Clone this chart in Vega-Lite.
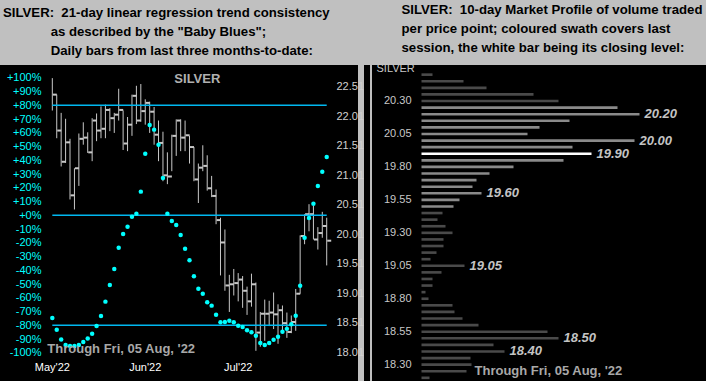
{
  "$schema": "https://vega.github.io/schema/vega-lite/v6.json",
  "background": "#c0c0c0",
  "padding": {"left": 0, "top": 3, "right": 0, "bottom": 0},
  "spacing": 0,
  "config": {
    "view": {"stroke": null, "fill": "#000000"},
    "axis": {"labelFont": "Liberation Sans", "titleFont": "Liberation Sans", "grid": false, "domain": false, "ticks": false},
    "text": {"font": "Liberation Sans"},
    "title": {"font": "Liberation Sans"}
  },
  "datasets": {
    "silver": [
      {"n": 0, "date": "2022-05-06", "h": 22.66, "l": 22.11, "c": 22.38, "bb": -74.7},
      {"n": 1, "date": "2022-05-09", "h": 22.38, "l": 21.64, "c": 21.77, "bb": -83.2},
      {"n": 2, "date": "2022-05-10", "h": 22.07, "l": 21.16, "c": 21.24, "bb": -90.3},
      {"n": 3, "date": "2022-05-11", "h": 21.97, "l": 21.22, "c": 21.57, "bb": -94.3},
      {"n": 4, "date": "2022-05-12", "h": 21.63, "l": 20.60, "c": 20.67, "bb": -95.1},
      {"n": 5, "date": "2022-05-13", "h": 21.13, "l": 20.43, "c": 21.13, "bb": -95.1},
      {"n": 6, "date": "2022-05-16", "h": 21.72, "l": 20.83, "c": 21.63, "bb": -94.3},
      {"n": 7, "date": "2022-05-17", "h": 21.91, "l": 21.53, "c": 21.65, "bb": -92.1},
      {"n": 8, "date": "2022-05-18", "h": 21.74, "l": 21.39, "c": 21.40, "bb": -89.6},
      {"n": 9, "date": "2022-05-19", "h": 21.98, "l": 21.25, "c": 21.94, "bb": -86.1},
      {"n": 10, "date": "2022-05-20", "h": 22.06, "l": 21.59, "c": 21.77, "bb": -80.5},
      {"n": 11, "date": "2022-05-23", "h": 22.18, "l": 21.64, "c": 21.80, "bb": -73.2},
      {"n": 12, "date": "2022-05-24", "h": 22.21, "l": 21.64, "c": 22.12, "bb": -62.8},
      {"n": 13, "date": "2022-05-25", "h": 22.15, "l": 21.76, "c": 21.98, "bb": -50.7},
      {"n": 14, "date": "2022-05-26", "h": 22.07, "l": 21.73, "c": 22.04, "bb": -39.1},
      {"n": 15, "date": "2022-05-27", "h": 22.48, "l": 21.94, "c": 22.12, "bb": -23.6},
      {"n": 16, "date": "2022-05-31", "h": 22.11, "l": 21.44, "c": 21.55, "bb": -13.6},
      {"n": 17, "date": "2022-06-01", "h": 22.00, "l": 21.42, "c": 21.87, "bb": -8.3},
      {"n": 18, "date": "2022-06-02", "h": 22.38, "l": 21.68, "c": 22.36, "bb": -1.0},
      {"n": 19, "date": "2022-06-03", "h": 22.53, "l": 21.88, "c": 21.94, "bb": 1.2},
      {"n": 20, "date": "2022-06-06", "h": 22.56, "l": 21.92, "c": 22.10, "bb": 17.2},
      {"n": 21, "date": "2022-06-07", "h": 22.30, "l": 21.87, "c": 22.24, "bb": 44.8},
      {"n": 22, "date": "2022-06-08", "h": 22.26, "l": 21.73, "c": 22.09, "bb": 65.7},
      {"n": 23, "date": "2022-06-09", "h": 22.17, "l": 21.53, "c": 21.70, "bb": 62.3},
      {"n": 24, "date": "2022-06-10", "h": 21.94, "l": 21.25, "c": 21.56, "bb": 51.3},
      {"n": 25, "date": "2022-06-13", "h": 21.75, "l": 20.91, "c": 21.01, "bb": 27.1},
      {"n": 26, "date": "2022-06-14", "h": 21.40, "l": 20.86, "c": 20.99, "bb": 1.2},
      {"n": 27, "date": "2022-06-15", "h": 21.70, "l": 21.08, "c": 21.68, "bb": -4.1},
      {"n": 28, "date": "2022-06-16", "h": 21.96, "l": 21.34, "c": 21.94, "bb": -7.1},
      {"n": 29, "date": "2022-06-17", "h": 21.96, "l": 21.42, "c": 21.65, "bb": -14.3},
      {"n": 30, "date": "2022-06-21", "h": 21.94, "l": 21.42, "c": 21.69, "bb": -24.3},
      {"n": 31, "date": "2022-06-22", "h": 21.68, "l": 21.21, "c": 21.49, "bb": -32.7},
      {"n": 32, "date": "2022-06-23", "h": 21.49, "l": 20.91, "c": 20.94, "bb": -44.4},
      {"n": 33, "date": "2022-06-24", "h": 21.21, "l": 20.54, "c": 21.14, "bb": -53.4},
      {"n": 34, "date": "2022-06-27", "h": 21.52, "l": 21.08, "c": 21.17, "bb": -57.0},
      {"n": 35, "date": "2022-06-28", "h": 21.35, "l": 20.75, "c": 20.79, "bb": -63.3},
      {"n": 36, "date": "2022-06-29", "h": 21.00, "l": 20.64, "c": 20.66, "bb": -65.7},
      {"n": 37, "date": "2022-06-30", "h": 20.77, "l": 20.18, "c": 20.25, "bb": -72.3},
      {"n": 38, "date": "2022-07-01", "h": 20.29, "l": 19.31, "c": 19.87, "bb": -77.8},
      {"n": 39, "date": "2022-07-05", "h": 20.09, "l": 19.05, "c": 19.14, "bb": -77.6},
      {"n": 40, "date": "2022-07-06", "h": 19.32, "l": 18.69, "c": 19.16, "bb": -76.7},
      {"n": 41, "date": "2022-07-07", "h": 19.42, "l": 18.97, "c": 19.18, "bb": -77.8},
      {"n": 42, "date": "2022-07-08", "h": 19.35, "l": 18.87, "c": 19.24, "bb": -80.3},
      {"n": 43, "date": "2022-07-11", "h": 19.30, "l": 18.76, "c": 19.05, "bb": -81.2},
      {"n": 44, "date": "2022-07-12", "h": 19.12, "l": 18.64, "c": 18.87, "bb": -83.6},
      {"n": 45, "date": "2022-07-13", "h": 19.34, "l": 18.78, "c": 19.16, "bb": -85.1},
      {"n": 46, "date": "2022-07-14", "h": 19.19, "l": 18.03, "c": 18.34, "bb": -87.6},
      {"n": 47, "date": "2022-07-15", "h": 18.69, "l": 18.10, "c": 18.66, "bb": -92.9},
      {"n": 48, "date": "2022-07-18", "h": 18.90, "l": 18.20, "c": 18.66, "bb": -94.3},
      {"n": 49, "date": "2022-07-19", "h": 18.88, "l": 18.45, "c": 18.68, "bb": -92.9},
      {"n": 50, "date": "2022-07-20", "h": 19.02, "l": 18.40, "c": 18.65, "bb": -90.5},
      {"n": 51, "date": "2022-07-21", "h": 18.82, "l": 18.15, "c": 18.72, "bb": -88.3},
      {"n": 52, "date": "2022-07-22", "h": 18.80, "l": 18.38, "c": 18.50, "bb": -84.7},
      {"n": 53, "date": "2022-07-25", "h": 18.68, "l": 18.25, "c": 18.35, "bb": -82.6},
      {"n": 54, "date": "2022-07-26", "h": 18.63, "l": 18.33, "c": 18.52, "bb": -79.3},
      {"n": 55, "date": "2022-07-27", "h": 19.08, "l": 18.37, "c": 19.00, "bb": -73.1},
      {"n": 56, "date": "2022-07-28", "h": 19.99, "l": 19.00, "c": 19.98, "bb": -51.3},
      {"n": 57, "date": "2022-07-29", "h": 20.35, "l": 19.84, "c": 20.35, "bb": -16.3},
      {"n": 58, "date": "2022-08-01", "h": 20.52, "l": 20.06, "c": 20.35, "bb": -2.0},
      {"n": 59, "date": "2022-08-02", "h": 20.49, "l": 19.92, "c": 19.92, "bb": 8.4},
      {"n": 60, "date": "2022-08-03", "h": 20.13, "l": 19.75, "c": 20.03, "bb": 21.3},
      {"n": 61, "date": "2022-08-04", "h": 20.39, "l": 19.95, "c": 20.15, "bb": 31.7},
      {"n": 62, "date": "2022-08-05", "h": 20.29, "l": 19.48, "c": 19.90, "bb": 42.4}
    ],
    "guides": [
      {"grp": "p80", "n": 0, "lvl": 80}, {"grp": "p80", "n": 62, "lvl": 80},
      {"grp": "p0", "n": 0, "lvl": 0}, {"grp": "p0", "n": 62, "lvl": 0},
      {"grp": "m80", "n": 0, "lvl": -80}, {"grp": "m80", "n": 62, "lvl": -80}
    ],
    "leftNotes": [
      {"n": 0, "pct": -97, "txt": "Through Fri, 05 Aug, '22"}
    ],
    "months": [
      {"n": 0, "pct": -111, "txt": "May'22"},
      {"n": 21, "pct": -111, "txt": "Jun'22"},
      {"n": 42, "pct": -111, "txt": "Jul'22"}
    ],
    "leftTitle": [
      {"n": 33, "price": 22.645, "txt": "SILVER"}
    ],
    "profile": [
      {"p": "20.50", "vol": 11, "kind": "old", "lbl": ""},
      {"p": "20.45", "vol": 42, "kind": "old", "lbl": ""},
      {"p": "20.40", "vol": 65, "kind": "old", "lbl": ""},
      {"p": "20.35", "vol": 112, "kind": "old", "lbl": ""},
      {"p": "20.30", "vol": 137, "kind": "old", "lbl": ""},
      {"p": "20.25", "vol": 196, "kind": "swath", "lbl": ""},
      {"p": "20.20", "vol": 218, "kind": "swath", "lbl": "20.20"},
      {"p": "20.15", "vol": 148, "kind": "swath", "lbl": ""},
      {"p": "20.10", "vol": 118, "kind": "swath", "lbl": ""},
      {"p": "20.05", "vol": 106, "kind": "swath", "lbl": ""},
      {"p": "20.00", "vol": 213, "kind": "swath", "lbl": "20.00"},
      {"p": "19.95", "vol": 151, "kind": "swath", "lbl": ""},
      {"p": "19.90", "vol": 170, "kind": "close", "lbl": "19.90"},
      {"p": "19.85", "vol": 142, "kind": "swath", "lbl": ""},
      {"p": "19.80", "vol": 92, "kind": "swath", "lbl": ""},
      {"p": "19.75", "vol": 68, "kind": "swath", "lbl": ""},
      {"p": "19.70", "vol": 55, "kind": "swath", "lbl": ""},
      {"p": "19.65", "vol": 51, "kind": "swath", "lbl": ""},
      {"p": "19.60", "vol": 60, "kind": "swath", "lbl": "19.60"},
      {"p": "19.55", "vol": 38, "kind": "swath", "lbl": ""},
      {"p": "19.50", "vol": 32, "kind": "swath", "lbl": ""},
      {"p": "19.45", "vol": 21, "kind": "old", "lbl": ""},
      {"p": "19.40", "vol": 16, "kind": "old", "lbl": ""},
      {"p": "19.35", "vol": 24, "kind": "old", "lbl": ""},
      {"p": "19.30", "vol": 31, "kind": "old", "lbl": ""},
      {"p": "19.25", "vol": 22, "kind": "old", "lbl": ""},
      {"p": "19.20", "vol": 22, "kind": "old", "lbl": ""},
      {"p": "19.15", "vol": 15, "kind": "old", "lbl": ""},
      {"p": "19.10", "vol": 9, "kind": "old", "lbl": ""},
      {"p": "19.05", "vol": 43, "kind": "old", "lbl": "19.05"},
      {"p": "19.00", "vol": 20, "kind": "old", "lbl": ""},
      {"p": "18.95", "vol": 11, "kind": "old", "lbl": ""},
      {"p": "18.90", "vol": 11, "kind": "old", "lbl": ""},
      {"p": "18.85", "vol": 4, "kind": "old", "lbl": ""},
      {"p": "18.80", "vol": 7, "kind": "old", "lbl": ""},
      {"p": "18.75", "vol": 31, "kind": "old", "lbl": ""},
      {"p": "18.70", "vol": 33, "kind": "old", "lbl": ""},
      {"p": "18.65", "vol": 41, "kind": "old", "lbl": ""},
      {"p": "18.60", "vol": 57, "kind": "old", "lbl": ""},
      {"p": "18.55", "vol": 126, "kind": "old", "lbl": ""},
      {"p": "18.50", "vol": 137, "kind": "old", "lbl": "18.50"},
      {"p": "18.45", "vol": 72, "kind": "old", "lbl": ""},
      {"p": "18.40", "vol": 83, "kind": "old", "lbl": "18.40"},
      {"p": "18.35", "vol": 49, "kind": "old", "lbl": ""},
      {"p": "18.30", "vol": 50, "kind": "old", "lbl": ""},
      {"p": "18.25", "vol": 45, "kind": "old", "lbl": ""},
      {"p": "18.20", "vol": 8, "kind": "old", "lbl": ""}
    ],
    "priceLabels": [
      {"p": "20.30", "vol": -10}, {"p": "20.05", "vol": -10}, {"p": "19.80", "vol": -10},
      {"p": "19.55", "vol": -10}, {"p": "19.30", "vol": -10}, {"p": "19.05", "vol": -10},
      {"p": "18.80", "vol": -10}, {"p": "18.55", "vol": -10}, {"p": "18.30", "vol": -10}
    ],
    "rightTitle": [
      {"p": "20.50", "vol": -45, "txt": "SILVER"}
    ],
    "rightNotes": [
      {"p": "18.25", "vol": 53, "txt": "Through Fri, 05 Aug, '22"}
    ],
    "edge": [
      {"edge": -50.5}
    ]
  },
  "hconcat": [
    {
      "width": 358,
      "height": 319,
      "title": {
        "text": ["SILVER:\u00a0 21-day linear regression trend consistency", "\u200b\u00a0\u00a0\u00a0\u00a0\u00a0\u00a0\u00a0\u00a0\u00a0\u00a0\u00a0\u00a0\u00a0as described by the \"Baby Blues\";", "\u200b\u00a0\u00a0\u00a0\u00a0\u00a0\u00a0\u00a0\u00a0\u00a0\u00a0\u00a0\u00a0\u00a0Daily bars from last three months-to-date:"],
        "anchor": "start", "frame": "group", "dx": 3, "offset": 7,
        "fontSize": 13.2, "fontWeight": "bold", "color": "#000000", "lineHeight": 19
      },
      "layer": [
        {
          "data": {"name": "silver"},
          "mark": {"type": "rule", "color": "#c8c8c8", "strokeWidth": 1},
          "encoding": {
            "x": {
              "field": "n", "type": "quantitative",
              "scale": {"domain": [-11.82, 69.07], "nice": false, "zero": false},
              "axis": null
            },
            "y": {
              "field": "l", "type": "quantitative",
              "scale": {"domain": [17.467, 22.883], "nice": false, "zero": false},
              "axis": {
                "orient": "right", "offset": -24, "labelPadding": 2,
                "values": [18.01, 18.51, 19.01, 19.51, 20.01, 20.51, 21.01, 21.51, 22.01, 22.51],
                "format": ".2f", "labelColor": "#d0d0d0", "labelFontSize": 11, "title": null
              }
            },
            "y2": {"field": "h"}
          }
        },
        {
          "data": {"name": "silver"},
          "mark": {"type": "point", "shape": "stroke", "filled": false, "color": "#c8c8c8", "strokeWidth": 2, "size": 16, "xOffset": 2.5, "opacity": 1},
          "encoding": {
            "x": {"field": "n", "type": "quantitative", "axis": null},
            "y": {"field": "c", "type": "quantitative", "scale": {"domain": [17.467, 22.883], "nice": false, "zero": false}, "axis": null}
          }
        },
        {
          "data": {"name": "leftTitle"},
          "mark": {"type": "text", "align": "center", "baseline": "middle", "dx": -1, "fontSize": 13, "fontWeight": "bold", "color": "#b0b0b0"},
          "encoding": {
            "x": {"field": "n", "type": "quantitative", "axis": null},
            "y": {"field": "price", "type": "quantitative", "scale": {"domain": [17.467, 22.883], "nice": false, "zero": false}, "axis": null},
            "text": {"field": "txt"}
          }
        },
        {
          "data": {"name": "guides"},
          "mark": {"type": "line", "color": "#00b8f0", "strokeWidth": 1.5},
          "encoding": {
            "x": {"field": "n", "type": "quantitative", "axis": null},
            "y": {"field": "lvl", "type": "quantitative", "scale": {"domain": [-122.7, 109.3], "nice": false, "zero": false}, "axis": null},
            "detail": {"field": "grp"}
          }
        },
        {
          "data": {"name": "silver"},
          "mark": {"type": "point", "shape": "circle", "filled": true, "size": 20, "color": "#00ffff", "opacity": 1},
          "encoding": {
            "x": {"field": "n", "type": "quantitative", "axis": null},
            "y": {
              "field": "bb", "type": "quantitative",
              "scale": {"domain": [-122.7, 109.3], "nice": false, "zero": false},
              "axis": {
                "orient": "left", "offset": -43, "labelPadding": 2,
                "values": [-100, -90, -80, -70, -60, -50, -40, -30, -20, -10, 0, 10, 20, 30, 40, 50, 60, 70, 80, 90, 100],
                "labelExpr": "(datum.value >= 0 ? '+' : '') + datum.value + '%'",
                "labelColor": "#00ffff", "labelFontSize": 11, "title": null
              }
            }
          }
        },
        {
          "data": {"name": "leftNotes"},
          "mark": {"type": "text", "align": "left", "baseline": "middle", "dx": -5, "fontSize": 13, "fontWeight": "bold", "color": "#a8a8a8"},
          "encoding": {
            "x": {"field": "n", "type": "quantitative", "axis": null},
            "y": {"field": "pct", "type": "quantitative", "scale": {"domain": [-122.7, 109.3], "nice": false, "zero": false}, "axis": null},
            "text": {"field": "txt"}
          }
        },
        {
          "data": {"name": "months"},
          "mark": {"type": "text", "align": "center", "baseline": "middle", "fontSize": 11, "color": "#ffffff"},
          "encoding": {
            "x": {"field": "n", "type": "quantitative", "axis": null},
            "y": {"field": "pct", "type": "quantitative", "scale": {"domain": [-122.7, 109.3], "nice": false, "zero": false}, "axis": null},
            "text": {"field": "txt"}
          }
        }
      ],
      "resolve": {"scale": {"y": "independent"}, "axis": {"y": "independent"}}
    },
    {
      "width": 342,
      "height": 319,
      "title": {
        "text": ["SILVER:\u00a0 10-day Market Profile of volume traded", "per price point; coloured swath covers last", "session, the white bar being its closing level:"],
        "anchor": "start", "frame": "group", "dx": 37.5, "offset": 7,
        "fontSize": 13.2, "fontWeight": "bold", "color": "#000000", "lineHeight": 19
      },
      "layer": [
        {
          "data": {"name": "edge"},
          "mark": {"type": "rule", "color": "#ffffff", "strokeWidth": 1.5},
          "encoding": {"x": {"field": "edge", "type": "quantitative", "axis": null}}
        },
        {
          "data": {"name": "profile"},
          "mark": {"type": "bar"},
          "encoding": {
            "x": {"field": "vol", "type": "quantitative", "scale": {"domain": [-57.5, 284.5], "nice": false, "zero": false}, "axis": null},
            "y": {
              "field": "p", "type": "ordinal", "sort": "descending",
              "scale": {"paddingInner": 0.6, "paddingOuter": 1.338, "align": 0.632},
              "axis": null
            },
            "color": {"field": "kind", "type": "nominal", "scale": {"domain": ["old", "swath", "close"], "range": ["#4a4a4a", "#8a8a8a", "#ffffff"]}, "legend": null}
          }
        },
        {
          "data": {"name": "profile"},
          "mark": {"type": "text", "align": "left", "baseline": "middle", "dx": 5, "fontSize": 13, "fontWeight": "bold", "fontStyle": "italic", "color": "#c4c4c4"},
          "encoding": {
            "x": {"field": "vol", "type": "quantitative", "axis": null},
            "y": {"field": "p", "type": "ordinal", "sort": "descending", "axis": null},
            "text": {"field": "lbl"}
          }
        },
        {
          "data": {"name": "priceLabels"},
          "mark": {"type": "text", "align": "right", "baseline": "middle", "fontSize": 11, "color": "#c8c8c8"},
          "encoding": {
            "x": {"field": "vol", "type": "quantitative", "axis": null},
            "y": {"field": "p", "type": "ordinal", "sort": "descending", "axis": null},
            "text": {"field": "p"}
          }
        },
        {
          "data": {"name": "rightTitle"},
          "mark": {"type": "text", "align": "left", "baseline": "middle", "dy": -6, "fontSize": 11, "color": "#c8c8c8"},
          "encoding": {
            "x": {"field": "vol", "type": "quantitative", "axis": null},
            "y": {"field": "p", "type": "ordinal", "sort": "descending", "axis": null},
            "text": {"field": "txt"}
          }
        },
        {
          "data": {"name": "rightNotes"},
          "mark": {"type": "text", "align": "left", "baseline": "middle", "fontSize": 13, "fontWeight": "bold", "color": "#a8a8a8"},
          "encoding": {
            "x": {"field": "vol", "type": "quantitative", "axis": null},
            "y": {"field": "p", "type": "ordinal", "sort": "descending", "axis": null},
            "text": {"field": "txt"}
          }
        }
      ]
    }
  ]
}
